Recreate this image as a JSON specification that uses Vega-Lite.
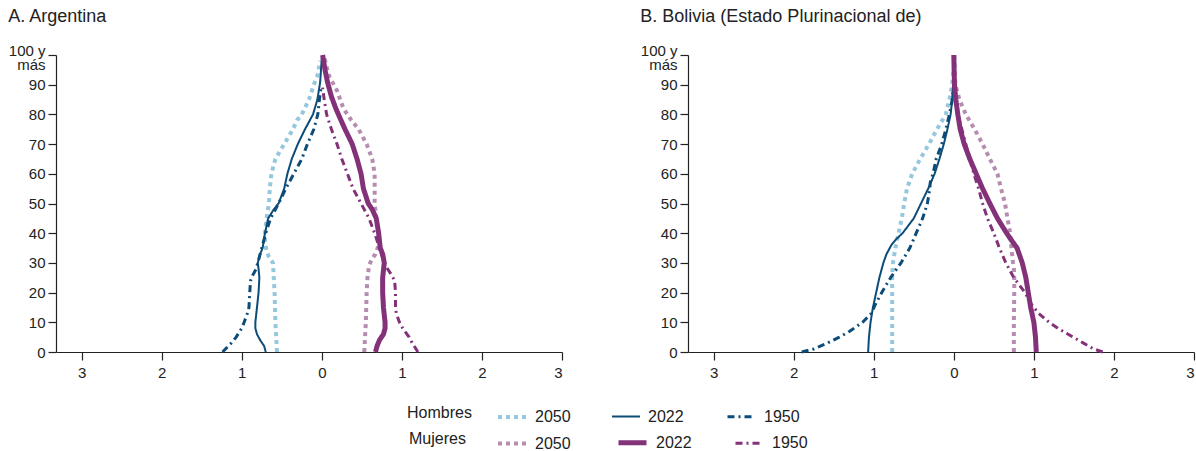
{
  "$schema": "https://vega.github.io/schema/vega-lite/v6.json",
  "padding": {"left": 8, "top": 8, "right": 5, "bottom": 2},
  "bounds": "flush",
  "spacing": 126,
  "config": {
    "font": "Liberation Sans",
    "view": {"stroke": null},
    "axis": {"grid": false, "domainColor": "#222222", "tickColor": "#222222", "labelColor": "#222222", "labelFontSize": 15, "domainWidth": 1.2, "tickWidth": 1.2, "tickSize": 8, "title": null},
    "title": {"fontSize": 18, "fontWeight": "normal", "anchor": "start", "frame": "bounds", "color": "#222222", "offset": 17},
    "legend": {"orient": "none", "direction": "horizontal", "titleOrient": "left", "titleFontSize": 16, "titleFontWeight": "normal", "titleColor": "#222222", "labelFontSize": 16, "labelColor": "#222222", "symbolType": "stroke", "symbolSize": 784, "labelOffset": 7, "columnPadding": 37}
  },
  "datasets": {
    "pyr": [
      {"pais":"A","sexo":"H","serie":"H2050","edad":0,"valor":-0.56},
      {"pais":"A","sexo":"H","serie":"H2050","edad":10,"valor":-0.58},
      {"pais":"A","sexo":"H","serie":"H2050","edad":20,"valor":-0.59},
      {"pais":"A","sexo":"H","serie":"H2050","edad":30,"valor":-0.61},
      {"pais":"A","sexo":"H","serie":"H2050","edad":32,"valor":-0.66},
      {"pais":"A","sexo":"H","serie":"H2050","edad":34,"valor":-0.69},
      {"pais":"A","sexo":"H","serie":"H2050","edad":37,"valor":-0.71},
      {"pais":"A","sexo":"H","serie":"H2050","edad":40,"valor":-0.71},
      {"pais":"A","sexo":"H","serie":"H2050","edad":45,"valor":-0.69},
      {"pais":"A","sexo":"H","serie":"H2050","edad":50,"valor":-0.66},
      {"pais":"A","sexo":"H","serie":"H2050","edad":55,"valor":-0.65},
      {"pais":"A","sexo":"H","serie":"H2050","edad":60,"valor":-0.63},
      {"pais":"A","sexo":"H","serie":"H2050","edad":65,"valor":-0.58},
      {"pais":"A","sexo":"H","serie":"H2050","edad":70,"valor":-0.47},
      {"pais":"A","sexo":"H","serie":"H2050","edad":75,"valor":-0.36},
      {"pais":"A","sexo":"H","serie":"H2050","edad":78,"valor":-0.31},
      {"pais":"A","sexo":"H","serie":"H2050","edad":80,"valor":-0.25},
      {"pais":"A","sexo":"H","serie":"H2050","edad":85,"valor":-0.16},
      {"pais":"A","sexo":"H","serie":"H2050","edad":90,"valor":-0.1},
      {"pais":"A","sexo":"H","serie":"H2050","edad":93,"valor":-0.055},
      {"pais":"A","sexo":"H","serie":"H2050","edad":98,"valor":-0.02},
      {"pais":"A","sexo":"H","serie":"H2022","edad":0,"valor":-0.7},
      {"pais":"A","sexo":"H","serie":"H2022","edad":2,"valor":-0.72},
      {"pais":"A","sexo":"H","serie":"H2022","edad":4,"valor":-0.77},
      {"pais":"A","sexo":"H","serie":"H2022","edad":6,"valor":-0.81},
      {"pais":"A","sexo":"H","serie":"H2022","edad":8,"valor":-0.83},
      {"pais":"A","sexo":"H","serie":"H2022","edad":10,"valor":-0.83},
      {"pais":"A","sexo":"H","serie":"H2022","edad":15,"valor":-0.81},
      {"pais":"A","sexo":"H","serie":"H2022","edad":20,"valor":-0.79},
      {"pais":"A","sexo":"H","serie":"H2022","edad":25,"valor":-0.78},
      {"pais":"A","sexo":"H","serie":"H2022","edad":28,"valor":-0.79},
      {"pais":"A","sexo":"H","serie":"H2022","edad":30,"valor":-0.8},
      {"pais":"A","sexo":"H","serie":"H2022","edad":33,"valor":-0.77},
      {"pais":"A","sexo":"H","serie":"H2022","edad":35,"valor":-0.74},
      {"pais":"A","sexo":"H","serie":"H2022","edad":40,"valor":-0.71},
      {"pais":"A","sexo":"H","serie":"H2022","edad":45,"valor":-0.67},
      {"pais":"A","sexo":"H","serie":"H2022","edad":48,"valor":-0.6},
      {"pais":"A","sexo":"H","serie":"H2022","edad":50,"valor":-0.54},
      {"pais":"A","sexo":"H","serie":"H2022","edad":55,"valor":-0.47},
      {"pais":"A","sexo":"H","serie":"H2022","edad":60,"valor":-0.43},
      {"pais":"A","sexo":"H","serie":"H2022","edad":65,"valor":-0.375},
      {"pais":"A","sexo":"H","serie":"H2022","edad":70,"valor":-0.3},
      {"pais":"A","sexo":"H","serie":"H2022","edad":75,"valor":-0.21},
      {"pais":"A","sexo":"H","serie":"H2022","edad":80,"valor":-0.11},
      {"pais":"A","sexo":"H","serie":"H2022","edad":85,"valor":-0.055},
      {"pais":"A","sexo":"H","serie":"H2022","edad":91,"valor":-0.02},
      {"pais":"A","sexo":"H","serie":"H2022","edad":99,"valor":0},
      {"pais":"A","sexo":"H","serie":"H1950","edad":0,"valor":-1.24},
      {"pais":"A","sexo":"H","serie":"H1950","edad":3,"valor":-1.13},
      {"pais":"A","sexo":"H","serie":"H1950","edad":5,"valor":-1.07},
      {"pais":"A","sexo":"H","serie":"H1950","edad":8,"valor":-1.0},
      {"pais":"A","sexo":"H","serie":"H1950","edad":10,"valor":-0.97},
      {"pais":"A","sexo":"H","serie":"H1950","edad":13,"valor":-0.93},
      {"pais":"A","sexo":"H","serie":"H1950","edad":15,"valor":-0.91},
      {"pais":"A","sexo":"H","serie":"H1950","edad":20,"valor":-0.9},
      {"pais":"A","sexo":"H","serie":"H1950","edad":24,"valor":-0.89},
      {"pais":"A","sexo":"H","serie":"H1950","edad":26,"valor":-0.86},
      {"pais":"A","sexo":"H","serie":"H1950","edad":28,"valor":-0.82},
      {"pais":"A","sexo":"H","serie":"H1950","edad":30,"valor":-0.8},
      {"pais":"A","sexo":"H","serie":"H1950","edad":35,"valor":-0.75},
      {"pais":"A","sexo":"H","serie":"H1950","edad":40,"valor":-0.7},
      {"pais":"A","sexo":"H","serie":"H1950","edad":45,"valor":-0.64},
      {"pais":"A","sexo":"H","serie":"H1950","edad":50,"valor":-0.54},
      {"pais":"A","sexo":"H","serie":"H1950","edad":55,"valor":-0.45},
      {"pais":"A","sexo":"H","serie":"H1950","edad":60,"valor":-0.35},
      {"pais":"A","sexo":"H","serie":"H1950","edad":65,"valor":-0.25},
      {"pais":"A","sexo":"H","serie":"H1950","edad":70,"valor":-0.18},
      {"pais":"A","sexo":"H","serie":"H1950","edad":75,"valor":-0.1},
      {"pais":"A","sexo":"H","serie":"H1950","edad":80,"valor":-0.05},
      {"pais":"A","sexo":"H","serie":"H1950","edad":85,"valor":-0.03},
      {"pais":"A","sexo":"H","serie":"H1950","edad":89,"valor":-0.01},
      {"pais":"A","sexo":"M","serie":"M2050","edad":0,"valor":0.53},
      {"pais":"A","sexo":"M","serie":"M2050","edad":10,"valor":0.55},
      {"pais":"A","sexo":"M","serie":"M2050","edad":20,"valor":0.56},
      {"pais":"A","sexo":"M","serie":"M2050","edad":25,"valor":0.57},
      {"pais":"A","sexo":"M","serie":"M2050","edad":29,"valor":0.59},
      {"pais":"A","sexo":"M","serie":"M2050","edad":31,"valor":0.62},
      {"pais":"A","sexo":"M","serie":"M2050","edad":33,"valor":0.67},
      {"pais":"A","sexo":"M","serie":"M2050","edad":36,"valor":0.71},
      {"pais":"A","sexo":"M","serie":"M2050","edad":40,"valor":0.71},
      {"pais":"A","sexo":"M","serie":"M2050","edad":45,"valor":0.68},
      {"pais":"A","sexo":"M","serie":"M2050","edad":50,"valor":0.66},
      {"pais":"A","sexo":"M","serie":"M2050","edad":55,"valor":0.66},
      {"pais":"A","sexo":"M","serie":"M2050","edad":60,"valor":0.66},
      {"pais":"A","sexo":"M","serie":"M2050","edad":65,"valor":0.63},
      {"pais":"A","sexo":"M","serie":"M2050","edad":70,"valor":0.56},
      {"pais":"A","sexo":"M","serie":"M2050","edad":75,"valor":0.46},
      {"pais":"A","sexo":"M","serie":"M2050","edad":78,"valor":0.37},
      {"pais":"A","sexo":"M","serie":"M2050","edad":82,"valor":0.27},
      {"pais":"A","sexo":"M","serie":"M2050","edad":88,"valor":0.19},
      {"pais":"A","sexo":"M","serie":"M2050","edad":93,"valor":0.09},
      {"pais":"A","sexo":"M","serie":"M2050","edad":97,"valor":0.05},
      {"pais":"A","sexo":"M","serie":"M2050","edad":100,"valor":0.03},
      {"pais":"A","sexo":"M","serie":"M2022","edad":0,"valor":0.67},
      {"pais":"A","sexo":"M","serie":"M2022","edad":2,"valor":0.69},
      {"pais":"A","sexo":"M","serie":"M2022","edad":4,"valor":0.72},
      {"pais":"A","sexo":"M","serie":"M2022","edad":6,"valor":0.77},
      {"pais":"A","sexo":"M","serie":"M2022","edad":8,"valor":0.79},
      {"pais":"A","sexo":"M","serie":"M2022","edad":10,"valor":0.79},
      {"pais":"A","sexo":"M","serie":"M2022","edad":15,"valor":0.77},
      {"pais":"A","sexo":"M","serie":"M2022","edad":20,"valor":0.76},
      {"pais":"A","sexo":"M","serie":"M2022","edad":25,"valor":0.76},
      {"pais":"A","sexo":"M","serie":"M2022","edad":30,"valor":0.78},
      {"pais":"A","sexo":"M","serie":"M2022","edad":33,"valor":0.76},
      {"pais":"A","sexo":"M","serie":"M2022","edad":35,"valor":0.73},
      {"pais":"A","sexo":"M","serie":"M2022","edad":40,"valor":0.71},
      {"pais":"A","sexo":"M","serie":"M2022","edad":45,"valor":0.68},
      {"pais":"A","sexo":"M","serie":"M2022","edad":48,"valor":0.63},
      {"pais":"A","sexo":"M","serie":"M2022","edad":50,"valor":0.58},
      {"pais":"A","sexo":"M","serie":"M2022","edad":55,"valor":0.52},
      {"pais":"A","sexo":"M","serie":"M2022","edad":60,"valor":0.49},
      {"pais":"A","sexo":"M","serie":"M2022","edad":65,"valor":0.44},
      {"pais":"A","sexo":"M","serie":"M2022","edad":70,"valor":0.38},
      {"pais":"A","sexo":"M","serie":"M2022","edad":75,"valor":0.29},
      {"pais":"A","sexo":"M","serie":"M2022","edad":78,"valor":0.24},
      {"pais":"A","sexo":"M","serie":"M2022","edad":82,"valor":0.175},
      {"pais":"A","sexo":"M","serie":"M2022","edad":86,"valor":0.12},
      {"pais":"A","sexo":"M","serie":"M2022","edad":91,"valor":0.07},
      {"pais":"A","sexo":"M","serie":"M2022","edad":95,"valor":0.04},
      {"pais":"A","sexo":"M","serie":"M2022","edad":100,"valor":0.01},
      {"pais":"A","sexo":"M","serie":"M1950","edad":0,"valor":1.2},
      {"pais":"A","sexo":"M","serie":"M1950","edad":3,"valor":1.13},
      {"pais":"A","sexo":"M","serie":"M1950","edad":5,"valor":1.09},
      {"pais":"A","sexo":"M","serie":"M1950","edad":8,"valor":1.01},
      {"pais":"A","sexo":"M","serie":"M1950","edad":10,"valor":0.97},
      {"pais":"A","sexo":"M","serie":"M1950","edad":13,"valor":0.93},
      {"pais":"A","sexo":"M","serie":"M1950","edad":15,"valor":0.92},
      {"pais":"A","sexo":"M","serie":"M1950","edad":20,"valor":0.92},
      {"pais":"A","sexo":"M","serie":"M1950","edad":24,"valor":0.91},
      {"pais":"A","sexo":"M","serie":"M1950","edad":26,"valor":0.87},
      {"pais":"A","sexo":"M","serie":"M1950","edad":28,"valor":0.82},
      {"pais":"A","sexo":"M","serie":"M1950","edad":30,"valor":0.78},
      {"pais":"A","sexo":"M","serie":"M1950","edad":35,"valor":0.72},
      {"pais":"A","sexo":"M","serie":"M1950","edad":40,"valor":0.66},
      {"pais":"A","sexo":"M","serie":"M1950","edad":45,"valor":0.59},
      {"pais":"A","sexo":"M","serie":"M1950","edad":50,"valor":0.49},
      {"pais":"A","sexo":"M","serie":"M1950","edad":55,"valor":0.39},
      {"pais":"A","sexo":"M","serie":"M1950","edad":60,"valor":0.32},
      {"pais":"A","sexo":"M","serie":"M1950","edad":65,"valor":0.25},
      {"pais":"A","sexo":"M","serie":"M1950","edad":70,"valor":0.19},
      {"pais":"A","sexo":"M","serie":"M1950","edad":75,"valor":0.12},
      {"pais":"A","sexo":"M","serie":"M1950","edad":80,"valor":0.06},
      {"pais":"A","sexo":"M","serie":"M1950","edad":85,"valor":0.03},
      {"pais":"A","sexo":"M","serie":"M1950","edad":89,"valor":0.01},

      {"pais":"B","sexo":"H","serie":"H2050","edad":0,"valor":-0.77},
      {"pais":"B","sexo":"H","serie":"H2050","edad":10,"valor":-0.77},
      {"pais":"B","sexo":"H","serie":"H2050","edad":20,"valor":-0.77},
      {"pais":"B","sexo":"H","serie":"H2050","edad":25,"valor":-0.77},
      {"pais":"B","sexo":"H","serie":"H2050","edad":30,"valor":-0.76},
      {"pais":"B","sexo":"H","serie":"H2050","edad":35,"valor":-0.73},
      {"pais":"B","sexo":"H","serie":"H2050","edad":40,"valor":-0.69},
      {"pais":"B","sexo":"H","serie":"H2050","edad":45,"valor":-0.65},
      {"pais":"B","sexo":"H","serie":"H2050","edad":50,"valor":-0.62},
      {"pais":"B","sexo":"H","serie":"H2050","edad":55,"valor":-0.585},
      {"pais":"B","sexo":"H","serie":"H2050","edad":60,"valor":-0.52},
      {"pais":"B","sexo":"H","serie":"H2050","edad":65,"valor":-0.42},
      {"pais":"B","sexo":"H","serie":"H2050","edad":70,"valor":-0.31},
      {"pais":"B","sexo":"H","serie":"H2050","edad":75,"valor":-0.21},
      {"pais":"B","sexo":"H","serie":"H2050","edad":80,"valor":-0.1},
      {"pais":"B","sexo":"H","serie":"H2050","edad":85,"valor":-0.055},
      {"pais":"B","sexo":"H","serie":"H2050","edad":90,"valor":-0.02},
      {"pais":"B","sexo":"H","serie":"H2050","edad":95,"valor":-0.005},
      {"pais":"B","sexo":"H","serie":"H2022","edad":0,"valor":-1.07},
      {"pais":"B","sexo":"H","serie":"H2022","edad":5,"valor":-1.06},
      {"pais":"B","sexo":"H","serie":"H2022","edad":10,"valor":-1.04},
      {"pais":"B","sexo":"H","serie":"H2022","edad":15,"valor":-1.01},
      {"pais":"B","sexo":"H","serie":"H2022","edad":20,"valor":-0.97},
      {"pais":"B","sexo":"H","serie":"H2022","edad":25,"valor":-0.93},
      {"pais":"B","sexo":"H","serie":"H2022","edad":30,"valor":-0.88},
      {"pais":"B","sexo":"H","serie":"H2022","edad":33,"valor":-0.84},
      {"pais":"B","sexo":"H","serie":"H2022","edad":36,"valor":-0.78},
      {"pais":"B","sexo":"H","serie":"H2022","edad":38,"valor":-0.72},
      {"pais":"B","sexo":"H","serie":"H2022","edad":40,"valor":-0.64},
      {"pais":"B","sexo":"H","serie":"H2022","edad":45,"valor":-0.5},
      {"pais":"B","sexo":"H","serie":"H2022","edad":50,"valor":-0.41},
      {"pais":"B","sexo":"H","serie":"H2022","edad":55,"valor":-0.32},
      {"pais":"B","sexo":"H","serie":"H2022","edad":60,"valor":-0.24},
      {"pais":"B","sexo":"H","serie":"H2022","edad":65,"valor":-0.18},
      {"pais":"B","sexo":"H","serie":"H2022","edad":70,"valor":-0.125},
      {"pais":"B","sexo":"H","serie":"H2022","edad":75,"valor":-0.08},
      {"pais":"B","sexo":"H","serie":"H2022","edad":80,"valor":-0.04},
      {"pais":"B","sexo":"H","serie":"H2022","edad":85,"valor":-0.02},
      {"pais":"B","sexo":"H","serie":"H2022","edad":90,"valor":-0.01},
      {"pais":"B","sexo":"H","serie":"H2022","edad":95,"valor":0},
      {"pais":"B","sexo":"H","serie":"H1950","edad":0,"valor":-1.9},
      {"pais":"B","sexo":"H","serie":"H1950","edad":1,"valor":-1.75},
      {"pais":"B","sexo":"H","serie":"H1950","edad":3,"valor":-1.58},
      {"pais":"B","sexo":"H","serie":"H1950","edad":5,"valor":-1.43},
      {"pais":"B","sexo":"H","serie":"H1950","edad":7,"valor":-1.3},
      {"pais":"B","sexo":"H","serie":"H1950","edad":10,"valor":-1.14},
      {"pais":"B","sexo":"H","serie":"H1950","edad":13,"valor":-1.03},
      {"pais":"B","sexo":"H","serie":"H1950","edad":16,"valor":-0.98},
      {"pais":"B","sexo":"H","serie":"H1950","edad":20,"valor":-0.9},
      {"pais":"B","sexo":"H","serie":"H1950","edad":25,"valor":-0.79},
      {"pais":"B","sexo":"H","serie":"H1950","edad":30,"valor":-0.66},
      {"pais":"B","sexo":"H","serie":"H1950","edad":35,"valor":-0.55},
      {"pais":"B","sexo":"H","serie":"H1950","edad":40,"valor":-0.47},
      {"pais":"B","sexo":"H","serie":"H1950","edad":45,"valor":-0.39},
      {"pais":"B","sexo":"H","serie":"H1950","edad":50,"valor":-0.33},
      {"pais":"B","sexo":"H","serie":"H1950","edad":55,"valor":-0.3},
      {"pais":"B","sexo":"H","serie":"H1950","edad":57,"valor":-0.295},
      {"pais":"B","sexo":"H","serie":"H1950","edad":60,"valor":-0.26},
      {"pais":"B","sexo":"H","serie":"H1950","edad":65,"valor":-0.22},
      {"pais":"B","sexo":"H","serie":"H1950","edad":70,"valor":-0.15},
      {"pais":"B","sexo":"H","serie":"H1950","edad":75,"valor":-0.1},
      {"pais":"B","sexo":"H","serie":"H1950","edad":80,"valor":-0.055},
      {"pais":"B","sexo":"H","serie":"H1950","edad":85,"valor":-0.02},
      {"pais":"B","sexo":"H","serie":"H1950","edad":88,"valor":-0.01},
      {"pais":"B","sexo":"M","serie":"M2050","edad":0,"valor":0.75},
      {"pais":"B","sexo":"M","serie":"M2050","edad":10,"valor":0.75},
      {"pais":"B","sexo":"M","serie":"M2050","edad":20,"valor":0.755},
      {"pais":"B","sexo":"M","serie":"M2050","edad":25,"valor":0.755},
      {"pais":"B","sexo":"M","serie":"M2050","edad":28,"valor":0.75},
      {"pais":"B","sexo":"M","serie":"M2050","edad":30,"valor":0.74},
      {"pais":"B","sexo":"M","serie":"M2050","edad":35,"valor":0.72},
      {"pais":"B","sexo":"M","serie":"M2050","edad":40,"valor":0.705},
      {"pais":"B","sexo":"M","serie":"M2050","edad":45,"valor":0.67},
      {"pais":"B","sexo":"M","serie":"M2050","edad":50,"valor":0.64},
      {"pais":"B","sexo":"M","serie":"M2050","edad":55,"valor":0.59},
      {"pais":"B","sexo":"M","serie":"M2050","edad":60,"valor":0.545},
      {"pais":"B","sexo":"M","serie":"M2050","edad":65,"valor":0.45},
      {"pais":"B","sexo":"M","serie":"M2050","edad":70,"valor":0.36},
      {"pais":"B","sexo":"M","serie":"M2050","edad":75,"valor":0.26},
      {"pais":"B","sexo":"M","serie":"M2050","edad":80,"valor":0.15},
      {"pais":"B","sexo":"M","serie":"M2050","edad":85,"valor":0.07},
      {"pais":"B","sexo":"M","serie":"M2050","edad":90,"valor":0.02},
      {"pais":"B","sexo":"M","serie":"M2050","edad":95,"valor":0.01},
      {"pais":"B","sexo":"M","serie":"M2050","edad":100,"valor":0.005},
      {"pais":"B","sexo":"M","serie":"M2022","edad":0,"valor":1.03},
      {"pais":"B","sexo":"M","serie":"M2022","edad":5,"valor":1.02},
      {"pais":"B","sexo":"M","serie":"M2022","edad":10,"valor":1.0},
      {"pais":"B","sexo":"M","serie":"M2022","edad":15,"valor":0.96},
      {"pais":"B","sexo":"M","serie":"M2022","edad":20,"valor":0.93},
      {"pais":"B","sexo":"M","serie":"M2022","edad":25,"valor":0.9},
      {"pais":"B","sexo":"M","serie":"M2022","edad":30,"valor":0.855},
      {"pais":"B","sexo":"M","serie":"M2022","edad":35,"valor":0.79},
      {"pais":"B","sexo":"M","serie":"M2022","edad":38,"valor":0.71},
      {"pais":"B","sexo":"M","serie":"M2022","edad":40,"valor":0.66},
      {"pais":"B","sexo":"M","serie":"M2022","edad":45,"valor":0.545},
      {"pais":"B","sexo":"M","serie":"M2022","edad":50,"valor":0.45},
      {"pais":"B","sexo":"M","serie":"M2022","edad":55,"valor":0.36},
      {"pais":"B","sexo":"M","serie":"M2022","edad":60,"valor":0.28},
      {"pais":"B","sexo":"M","serie":"M2022","edad":65,"valor":0.2},
      {"pais":"B","sexo":"M","serie":"M2022","edad":70,"valor":0.13},
      {"pais":"B","sexo":"M","serie":"M2022","edad":75,"valor":0.08},
      {"pais":"B","sexo":"M","serie":"M2022","edad":80,"valor":0.05},
      {"pais":"B","sexo":"M","serie":"M2022","edad":85,"valor":0.025},
      {"pais":"B","sexo":"M","serie":"M2022","edad":90,"valor":0.008},
      {"pais":"B","sexo":"M","serie":"M2022","edad":100,"valor":0},
      {"pais":"B","sexo":"M","serie":"M1950","edad":0,"valor":1.86},
      {"pais":"B","sexo":"M","serie":"M1950","edad":1,"valor":1.75},
      {"pais":"B","sexo":"M","serie":"M1950","edad":3,"valor":1.62},
      {"pais":"B","sexo":"M","serie":"M1950","edad":5,"valor":1.49},
      {"pais":"B","sexo":"M","serie":"M1950","edad":8,"valor":1.3},
      {"pais":"B","sexo":"M","serie":"M1950","edad":10,"valor":1.19},
      {"pais":"B","sexo":"M","serie":"M1950","edad":13,"valor":1.06},
      {"pais":"B","sexo":"M","serie":"M1950","edad":16,"valor":0.97},
      {"pais":"B","sexo":"M","serie":"M1950","edad":20,"valor":0.89},
      {"pais":"B","sexo":"M","serie":"M1950","edad":25,"valor":0.75},
      {"pais":"B","sexo":"M","serie":"M1950","edad":30,"valor":0.65},
      {"pais":"B","sexo":"M","serie":"M1950","edad":35,"valor":0.57},
      {"pais":"B","sexo":"M","serie":"M1950","edad":40,"valor":0.5},
      {"pais":"B","sexo":"M","serie":"M1950","edad":45,"valor":0.42},
      {"pais":"B","sexo":"M","serie":"M1950","edad":50,"valor":0.36},
      {"pais":"B","sexo":"M","serie":"M1950","edad":55,"valor":0.31},
      {"pais":"B","sexo":"M","serie":"M1950","edad":60,"valor":0.25},
      {"pais":"B","sexo":"M","serie":"M1950","edad":65,"valor":0.2},
      {"pais":"B","sexo":"M","serie":"M1950","edad":70,"valor":0.15},
      {"pais":"B","sexo":"M","serie":"M1950","edad":75,"valor":0.1},
      {"pais":"B","sexo":"M","serie":"M1950","edad":80,"valor":0.05},
      {"pais":"B","sexo":"M","serie":"M1950","edad":85,"valor":0.02},
      {"pais":"B","sexo":"M","serie":"M1950","edad":88,"valor":0.01}
    ]
  },
  "hconcat": [
    {
      "title": {"text": "A. Argentina"},
      "width": 506,
      "height": 297,
      "data": {"name": "pyr"},
      "transform": [{"filter": "datum.pais == 'A'"}],
      "encoding": {
        "x": {"field": "valor", "type": "quantitative", "scale": {"domain": [-3.32, 3], "nice": false, "zero": false}, "axis": {"values": [-3, -2, -1, 0, 1, 2, 3], "labelExpr": "abs(datum.value)", "labelPadding": 5}},
        "y": {"field": "edad", "type": "quantitative", "scale": {"domain": [0, 100], "nice": false}, "axis": {"values": [0, 10, 20, 30, 40, 50, 60, 70, 80, 90, 100], "labelExpr": "datum.value == 100 ? ['100 y', 'más'] : datum.label", "labelPadding": 3, "labelLineHeight": 14, "labelOffset": {"condition": {"test": "datum.value == 100", "value": -5}, "value": 0}}},
        "order": {"field": "edad", "type": "quantitative"}
      },
      "layer": [
        {
          "transform": [{"filter": "datum.sexo == 'H'"}],
          "mark": {"type": "line"},
          "encoding": {
            "color": {"field": "serie", "type": "nominal", "scale": {"domain": ["H2050", "H2022", "H1950"], "range": ["#95c7dd", "#0d4c78", "#0d4c78"]}, "legend": {"title": "Hombres", "legendX": 351, "legendY": 346, "titlePadding": 24, "labelExpr": "substring(datum.label, 1)"}},
            "strokeDash": {"field": "serie", "type": "nominal", "scale": {"domain": ["H2050", "H2022", "H1950"], "range": [[4, 4], [1, 0], [7, 4, 2, 4]]}, "legend": {"title": "Hombres", "legendX": 351, "legendY": 346, "titlePadding": 24, "labelExpr": "substring(datum.label, 1)"}},
            "strokeWidth": {"field": "serie", "type": "nominal", "scale": {"type": "ordinal", "domain": ["H2050", "H2022", "H1950"], "range": [4, 2, 3]}, "legend": {"title": "Hombres", "legendX": 351, "legendY": 346, "titlePadding": 24, "labelExpr": "substring(datum.label, 1)"}}
          }
        },
        {
          "transform": [{"filter": "datum.sexo == 'M'"}],
          "mark": {"type": "line"},
          "encoding": {
            "color": {"field": "serie", "type": "nominal", "scale": {"domain": ["M2050", "M2022", "M1950"], "range": ["#b78cb1", "#83327a", "#83327a"]}, "legend": {"title": "Mujeres", "legendX": 353, "legendY": 371, "titlePadding": 30, "labelExpr": "substring(datum.label, 1)"}},
            "strokeDash": {"field": "serie", "type": "nominal", "scale": {"domain": ["M2050", "M2022", "M1950"], "range": [[4, 4], [1, 0], [7, 4, 2, 4]]}, "legend": {"title": "Mujeres", "legendX": 353, "legendY": 371, "titlePadding": 30, "labelExpr": "substring(datum.label, 1)"}},
            "strokeWidth": {"field": "serie", "type": "nominal", "scale": {"type": "ordinal", "domain": ["M2050", "M2022", "M1950"], "range": [4, 5, 3]}, "legend": {"title": "Mujeres", "legendX": 353, "legendY": 371, "titlePadding": 30, "labelExpr": "substring(datum.label, 1)"}}
          }
        }
      ],
      "resolve": {"scale": {"color": "independent", "strokeDash": "independent", "strokeWidth": "independent"}}
    },
    {
      "title": {"text": "B. Bolivia (Estado Plurinacional de)"},
      "width": 506,
      "height": 297,
      "data": {"name": "pyr"},
      "transform": [{"filter": "datum.pais == 'B'"}],
      "encoding": {
        "x": {"field": "valor", "type": "quantitative", "scale": {"domain": [-3.32, 3], "nice": false, "zero": false}, "axis": {"values": [-3, -2, -1, 0, 1, 2, 3], "labelExpr": "abs(datum.value)", "labelPadding": 5}},
        "y": {"field": "edad", "type": "quantitative", "scale": {"domain": [0, 100], "nice": false}, "axis": {"values": [0, 10, 20, 30, 40, 50, 60, 70, 80, 90, 100], "labelExpr": "datum.value == 100 ? ['100 y', 'más'] : datum.label", "labelPadding": 3, "labelLineHeight": 14, "labelOffset": {"condition": {"test": "datum.value == 100", "value": -5}, "value": 0}}},
        "order": {"field": "edad", "type": "quantitative"}
      },
      "layer": [
        {
          "transform": [{"filter": "datum.sexo == 'H'"}],
          "mark": {"type": "line"},
          "encoding": {
            "color": {"field": "serie", "type": "nominal", "scale": {"domain": ["H2050", "H2022", "H1950"], "range": ["#95c7dd", "#0d4c78", "#0d4c78"]}, "legend": null},
            "strokeDash": {"field": "serie", "type": "nominal", "scale": {"domain": ["H2050", "H2022", "H1950"], "range": [[4, 4], [1, 0], [7, 4, 2, 4]]}, "legend": null},
            "strokeWidth": {"field": "serie", "type": "nominal", "scale": {"type": "ordinal", "domain": ["H2050", "H2022", "H1950"], "range": [4, 2, 3]}, "legend": null}
          }
        },
        {
          "transform": [{"filter": "datum.sexo == 'M'"}],
          "mark": {"type": "line"},
          "encoding": {
            "color": {"field": "serie", "type": "nominal", "scale": {"domain": ["M2050", "M2022", "M1950"], "range": ["#b78cb1", "#83327a", "#83327a"]}, "legend": null},
            "strokeDash": {"field": "serie", "type": "nominal", "scale": {"domain": ["M2050", "M2022", "M1950"], "range": [[4, 4], [1, 0], [7, 4, 2, 4]]}, "legend": null},
            "strokeWidth": {"field": "serie", "type": "nominal", "scale": {"type": "ordinal", "domain": ["M2050", "M2022", "M1950"], "range": [4, 5, 3]}, "legend": null}
          }
        }
      ],
      "resolve": {"scale": {"color": "independent", "strokeDash": "independent", "strokeWidth": "independent"}}
    }
  ]
}
